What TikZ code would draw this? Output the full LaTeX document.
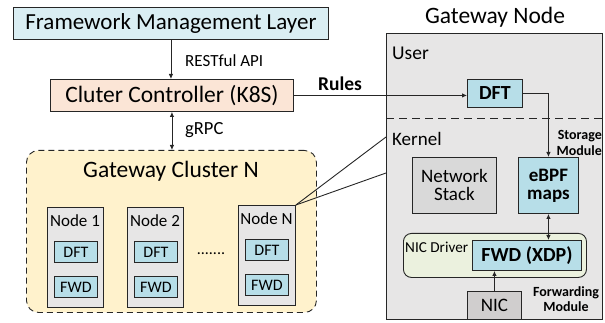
\documentclass[tikz,border=0pt]{standalone}
\usepackage{fontspec}
\setmainfont{Carlito}
\usetikzlibrary{arrows.meta}
\definecolor{fmlblue}{HTML}{DAEEF3}
\definecolor{ccpeach}{HTML}{FBE5D6}
\definecolor{clyellow}{HTML}{FFF2CC}
\definecolor{lgray}{HTML}{E7E6E6}
\definecolor{mgray}{HTML}{D9D9D9}
\definecolor{nicgray}{HTML}{D0CECE}
\definecolor{modblue}{HTML}{B7DEE8}
\definecolor{drvgreen}{HTML}{EBF1DE}
\definecolor{edge}{HTML}{262626}
\newcommand{\fs}[1]{\fontsize{#1}{#1}\selectfont}
\begin{document}
\begin{tikzpicture}[x=1pt,y=-1pt,
  box/.style={draw=edge, line width=0.9pt, anchor=north west, inner sep=0pt, align=center},
  lbl/.style={inner sep=0pt, text=black},
  conn/.style={draw=edge, line width=0.9pt},
  arr/.style={conn, -{Latex[length=5pt,width=4.5pt]}},
  darr/.style={conn, {Latex[length=5pt,width=4.5pt]}-{Latex[length=5pt,width=4.5pt]}}]
\useasboundingbox (0,0) rectangle (605,323);
% left side
\node[box, fill=fmlblue, minimum width=315pt, minimum height=32pt, font=\fs{23}] (fml) at (13,7) {Framework Management Layer};
\node[box, fill=ccpeach, minimum width=243pt, minimum height=32pt, font=\fs{23.5}] (cc) at (50,79) {Cluter Controller (K8S)};
\draw[arr] (fml.south) -- (fml.south |- cc.north);
\node[lbl, anchor=west, font=\fs{17}] (rest) at (185,61) {RESTful API};
\node[box, dashed, dash pattern=on 6pt off 4pt, fill=clyellow, rounded corners=12pt, minimum width=290pt, minimum height=162pt] (cl) at (26,150) {};
\draw[darr] (cc.south) -- (cc.south |- cl.north);
\node[lbl, anchor=west, font=\fs{18.5}] (grpc) at (185,130) {gRPC};
\node[lbl, font=\fs{23.5}] (cltitle) at (171,171) {Gateway Cluster N};
% nodes in cluster
\node[box, fill=lgray, minimum width=56pt, minimum height=100pt] (n1) at (47,207) {};
\node[lbl, font=\fs{17}] (n1t) at (75,221) {Node 1};
\node[box, fill=modblue, minimum width=43pt, minimum height=21pt, font=\fs{16}] (n1d) at (54,241) {DFT};
\node[box, fill=modblue, minimum width=43pt, minimum height=21pt, font=\fs{16}] (n1f) at (54,276) {FWD};
\node[box, fill=lgray, minimum width=56pt, minimum height=100pt] (n2) at (127,207) {};
\node[lbl, font=\fs{17}] (n2t) at (155,221) {Node 2};
\node[box, fill=modblue, minimum width=43pt, minimum height=21pt, font=\fs{16}] (n2d) at (134,241) {DFT};
\node[box, fill=modblue, minimum width=43pt, minimum height=21pt, font=\fs{16}] (n2f) at (134,276) {FWD};
\node[lbl, font=\fs{16}] (dots) at (211,254) {.......};
\node[box, fill=lgray, minimum width=57pt, minimum height=100pt] (nN) at (238,205) {};
\node[lbl, font=\fs{17}] (nNt) at (266.5,219) {Node N};
\node[box, fill=modblue, minimum width=43pt, minimum height=21pt, font=\fs{16}] (nNd) at (245,239) {DFT};
\node[box, fill=modblue, minimum width=43pt, minimum height=21pt, font=\fs{16}] (nNf) at (245,274) {FWD};
% gateway node
\node[lbl, font=\fs{23.5}] (gwt) at (495,17) {Gateway Node};
\node[box, fill=lgray, minimum width=216pt, minimum height=286pt] (gw) at (386,33) {};
\coordinate (g1) at (386,137);
\coordinate (g2) at (386,173);
\draw[conn] (nN.north east) -- (g1);
\draw[conn] (nN.north east) -- (g2);
\coordinate (sepL) at (386,118);
\coordinate (sepR) at (602,118);
\draw[conn, dash pattern=on 8pt off 5pt] (sepL) -- (sepR);
\node[lbl, anchor=west, font=\fs{19.5}] (user) at (392,53) {User};
\node[lbl, anchor=west, font=\fs{19}] (kern) at (392,139) {Kernel};
\node[box, fill=modblue, minimum width=55pt, minimum height=28pt, font=\fs{20}\bfseries] (udft) at (467,79) {DFT};
\draw[arr] (cc.east) -- (cc.east -| udft.west);
\node[lbl, font=\fs{19.5}\bfseries] (rules) at (340,84) {Rules};
\node[box, fill=mgray, minimum width=84pt, minimum height=56pt, font=\fs{19}] (ns) at (412,157) {Network\\[-1pt]Stack};
\node[box, fill=modblue, minimum width=60pt, minimum height=56pt, font=\fs{19}\bfseries] (ebpf) at (518,157) {eBPF\\[-1pt]maps};
\draw[arr] (udft.east) -| (ebpf.north);
\node[lbl, anchor=north east, align=right, font=\fs{14}\bfseries] (stor) at (602,130) {Storage\\[2pt]Module};
\node[box, fill=drvgreen, rounded corners=8pt, minimum width=183pt, minimum height=44pt] (drv) at (403,233) {};
\node[lbl, anchor=west, font=\fs{15.2}] (drvt) at (405,247) {NIC Driver};
\node[box, fill=modblue, minimum width=109pt, minimum height=30pt, font=\fs{20}\bfseries] (fwd) at (472,240) {FWD (XDP)};
\draw[darr] (ebpf.south) -- (ebpf.south |- fwd.north);
\node[box, fill=nicgray, minimum width=54pt, minimum height=28pt, font=\fs{19}] (nic) at (467,291) {NIC};
\draw[arr] (nic.north) -- (nic.north |- fwd.south);
\node[lbl, anchor=north, align=center, font=\fs{14}\bfseries] (fwdm) at (566,286) {Forwarding\\[1pt]Module};
\end{tikzpicture}
\end{document}
